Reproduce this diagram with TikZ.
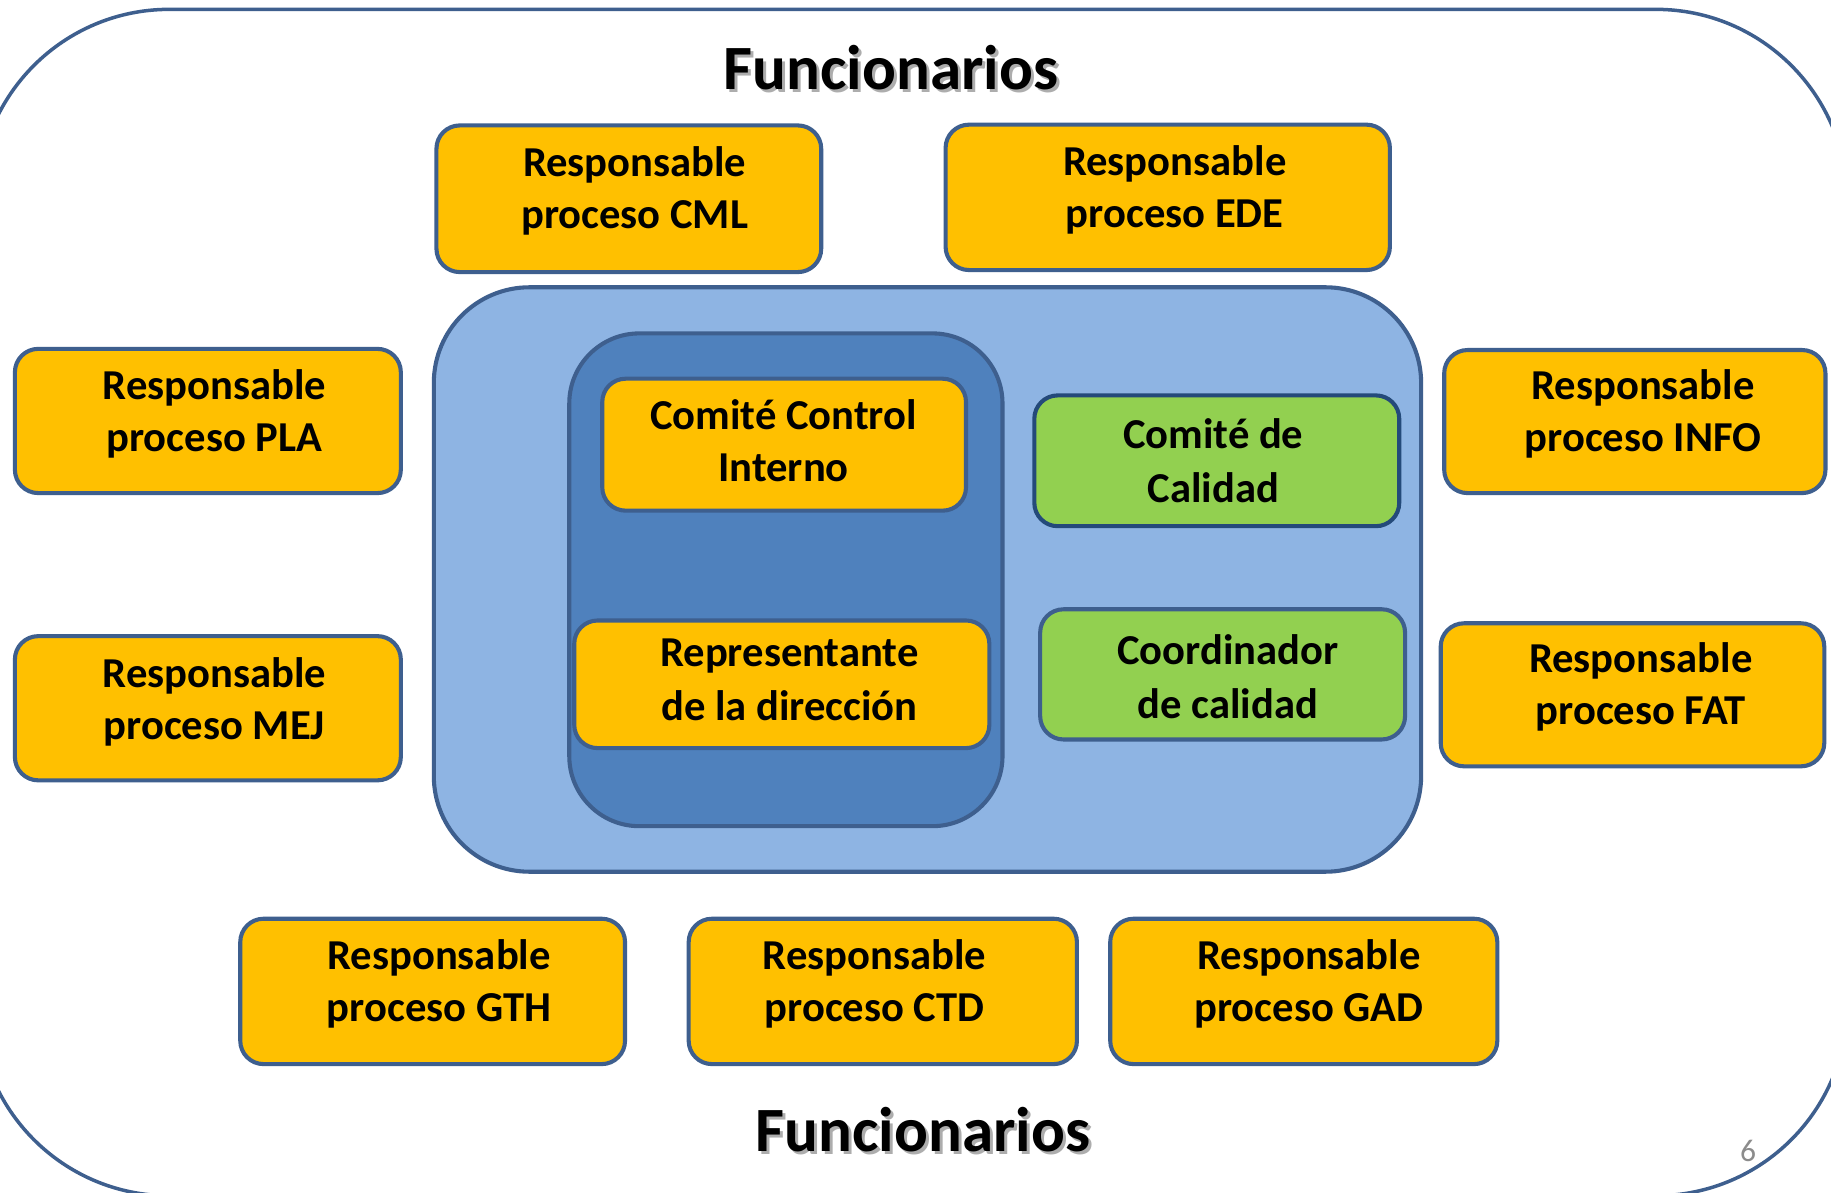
\documentclass[tikz,border=0pt]{standalone}
\usepackage{fontspec}
\setmainfont{Carlito}
\definecolor{boxorange}{HTML}{FFC000}
\definecolor{boxgreen}{HTML}{92D050}
\definecolor{lightblue}{HTML}{8EB4E3}
\definecolor{midblue}{HTML}{4F81BD}
\definecolor{edgeblue}{HTML}{3E5F8E}
\definecolor{darkedge}{HTML}{244A7A}
\definecolor{pagegrey}{HTML}{8C8C8C}
\newcommand\boxfont{\bfseries\fontsize{36.5}{43.5}\selectfont}
\newcommand\titlefont{\bfseries\fontsize{54}{60}\selectfont}
\newcommand\lnstrut{\rule[-20pt]{0pt}{40pt}}
\tikzset{
  rbox/.style={draw=edgeblue, line width=3.5pt, rounded corners=20pt, fill=boxorange, inner sep=0pt},
  gbox/.style={rbox, fill=boxgreen},
  btext/.style={font=\boxfont, align=center, inner sep=0pt},
  titletext/.style={font=\titlefont, inner sep=0pt, anchor=base},
  titleshadow/.style={titletext, text=black!40, opacity=0.8},
  area/.style={draw=edgeblue, line width=3.5pt},
}
\begin{document}
\begin{tikzpicture}[x=1pt,y=-1pt]
\useasboundingbox (0,0) rectangle (1568,1021);
\clip (0,0) rectangle (1568,1021);
\fill[white] (0,0) rectangle (1568,1021);
% outer frame
\draw[draw=edgeblue, line width=3pt, rounded corners=164pt] (-19,8) rectangle (1582,1024);
% titles
\node[titleshadow] (t1s) at (765.5,79.5) {Funcionarios};
\node[titletext] (t1) at (763,77) {Funcionarios};
\node[titleshadow] (t2s) at (793,988.5) {Funcionarios};
\node[titletext] (t2) at (790.5,986) {Funcionarios};
\node[font=\fontsize{27}{30}\selectfont, text=pagegrey, anchor=base, inner sep=0pt] (pg) at (1497,995) {6};
% central areas
\draw[area, fill=lightblue, rounded corners=82pt] (371.5,246) rectangle (1217,746.5);
\draw[area, fill=midblue, rounded corners=60pt] (487.5,285.5) rectangle (858.5,707.5);
% boxes
\node[rbox, minimum width=329.5pt, minimum height=125.6pt] (cml) at (538.5,170.2) {};
\node[btext] (cmlt) at (543.5,170.6) {\lnstrut Responsable\\\lnstrut proceso CML};
\node[rbox, minimum width=380.5pt, minimum height=124.5pt] (ede) at (1000,169) {};
\node[btext] (edet) at (1006,169.6) {\lnstrut Responsable\\\lnstrut proceso EDE};
\node[rbox, minimum width=330.5pt, minimum height=123.5pt] (pla) at (178,360.5) {};
\node[btext] (plat) at (183.5,361.6) {\lnstrut Responsable\\\lnstrut proceso PLA};
\node[rbox, minimum width=326.5pt, minimum height=122.5pt] (info) at (1400,361) {};
\node[btext] (infot) at (1407,361.6) {\lnstrut Responsable\\\lnstrut proceso INFO};
\node[rbox, minimum width=330.5pt, minimum height=123.5pt] (mej) at (178,606.5) {};
\node[btext] (mejt) at (183.5,608) {\lnstrut Responsable\\\lnstrut proceso MEJ};
\node[rbox, minimum width=328.5pt, minimum height=122.5pt] (fat) at (1398,595) {};
\node[btext] (fatt) at (1405,595) {\lnstrut Responsable\\\lnstrut proceso FAT};
\node[rbox, minimum width=329.5pt, minimum height=124.5pt] (gth) at (370.5,849) {};
\node[btext] (gtht) at (376,849.5) {\lnstrut Responsable\\\lnstrut proceso GTH};
\node[rbox, minimum width=332.5pt, minimum height=124.5pt] (ctd) at (756,849) {};
\node[btext] (ctdt) at (749,849.5) {\lnstrut Responsable\\\lnstrut proceso CTD};
\node[rbox, minimum width=331.5pt, minimum height=124.5pt] (gad) at (1116.5,849) {};
\node[btext] (gadt) at (1121,849.5) {\lnstrut Responsable\\\lnstrut proceso GAD};
% inner boxes
\node[rbox, minimum width=311.5pt, minimum height=113pt] (cci) at (671.5,380.8) {};
\node[btext] (ccit) at (671,387.5) {\lnstrut Comité Control\\\lnstrut Interno};
\node[rbox, minimum width=355.5pt, minimum height=109.3pt] (rep) at (669.5,586) {};
\node[btext] (rept) at (676,592) {\lnstrut Representante\\\lnstrut de la dirección};
\node[gbox, draw=darkedge, minimum width=312.5pt, minimum height=112pt] (cdc) at (1042,394.6) {};
\node[btext] (cdct) at (1039,404.6) {\lnstrut Comité de\\\lnstrut Calidad};
\node[gbox, minimum width=312.5pt, minimum height=111.5pt] (coord) at (1047,577.5) {};
\node[btext] (coordt) at (1051.5,589.5) {\lnstrut Coordinador\\\lnstrut de calidad};
\end{tikzpicture}
\end{document}
